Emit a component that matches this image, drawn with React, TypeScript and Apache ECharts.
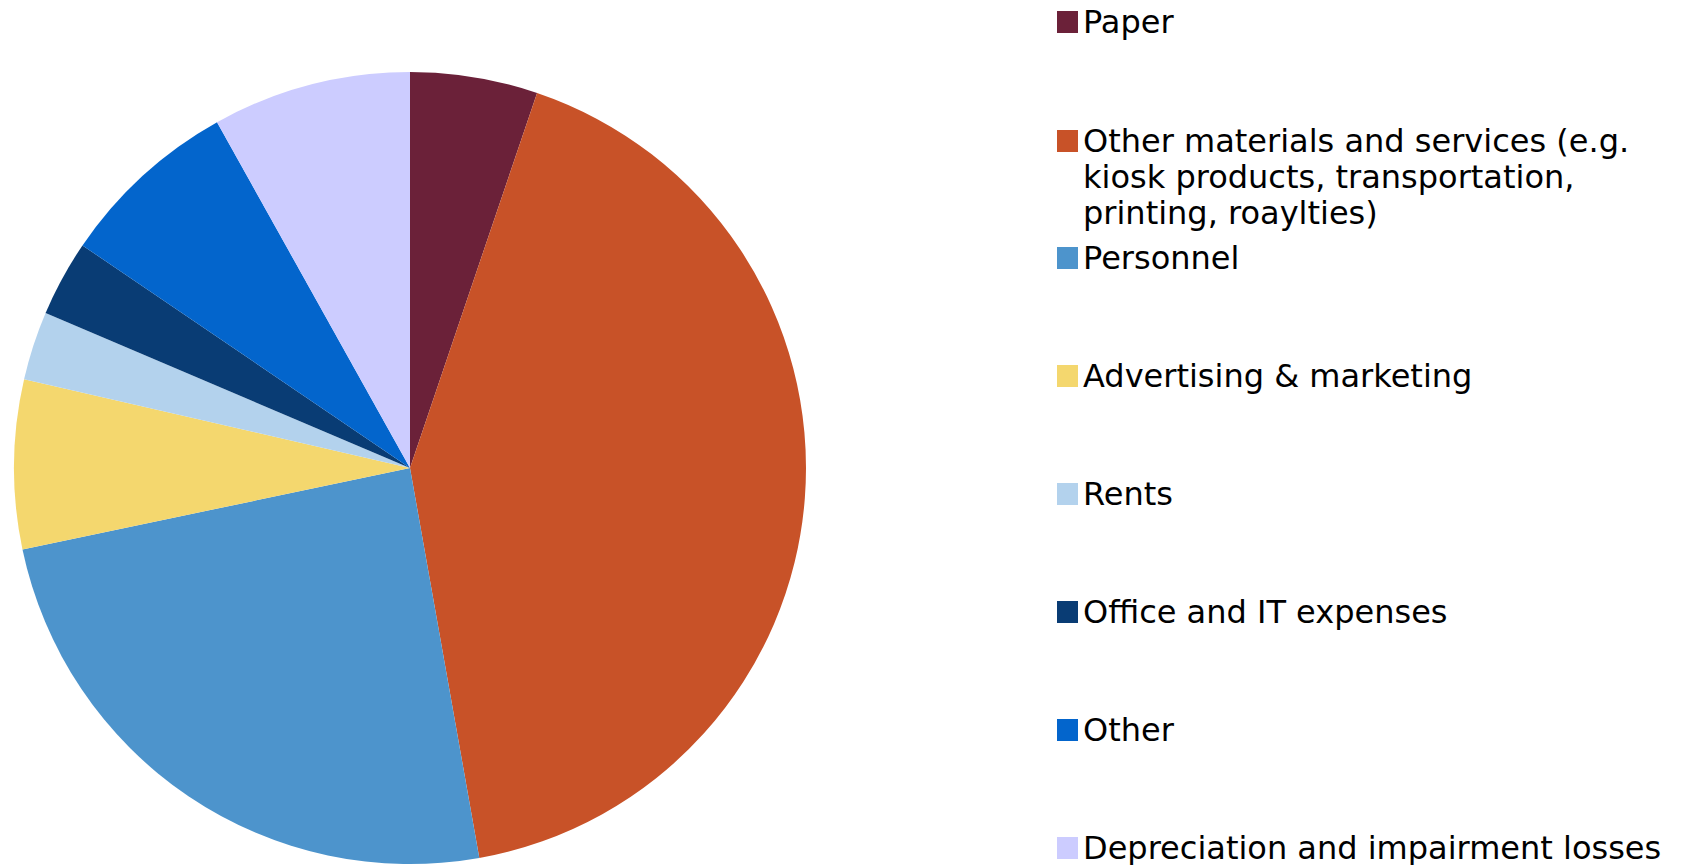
import React, { useEffect, useRef } from "react";
import * as echarts from "echarts";

const categories = [
  "Paper",
  "Other materials and services (e.g.\nkiosk products, transportation,\nprinting, roaylties)",
  "Personnel",
  "Advertising & marketing",
  "Rents",
  "Office and IT expenses",
  "Other",
  "Depreciation and impairment losses",
];
const values = [5.2, 42.0, 24.5, 6.9, 2.8, 3.1, 7.4, 8.1];
const colors = ["#6B2139", "#C85228", "#4D94CC", "#F4D76E", "#B3D2ED", "#093C74", "#0365CC", "#CCCCFF"];
const legendCenters = [22, 141, 258, 376, 494, 612, 730, 848];

export default function App() {
  const ref = useRef<HTMLDivElement>(null);
  useEffect(() => {
    if (!ref.current) return;
    const chart = echarts.init(ref.current, null, { renderer: "svg" });
    const fontSize = 32;
    const lh = 36;
    const iconH = 22;
    const legends = categories.map((name, i) => {
      const lines = name.split("\n").length;
      const multi = lines > 1;
      const totalLines = multi ? lines * 2 - 1 : 1;
      const lineH = multi ? lh : fontSize;
      const boxH = totalLines * lineH;
      const rectTop = Math.min(0, iconH / 2 - boxH / 2);
      return {
        data: [name],
        orient: "vertical",
        left: 1057,
        top: legendCenters[i] - iconH / 2 + rectTop,
        padding: [0, 0, 0, 0],
        icon: "rect",
        itemWidth: 21,
        itemHeight: iconH,
        selectedMode: false,
        formatter: multi ? (n: string) => " \n".repeat(lines - 1) + n : undefined,
        textStyle: {
          fontFamily: "DejaVu Sans",
          fontSize,
          color: "#000",
          lineHeight: lineH,
        },
      };
    });
    chart.setOption({
      animation: false,
      color: colors,
      legend: legends,
      series: [
        {
          type: "pie",
          center: [410, 468],
          radius: 396,
          startAngle: 90,
          clockwise: true,
          label: { show: false },
          labelLine: { show: false },
          emphasis: { disabled: true },
          data: categories.map((name, i) => ({ name, value: values[i] })),
        },
      ],
    });
    return () => chart.dispose();
  }, []);
  return (
    <div
      ref={ref}
      style={{ position: "fixed", left: 0, top: 0, width: 1698, height: 865, background: "#fff" }}
    />
  );
}
